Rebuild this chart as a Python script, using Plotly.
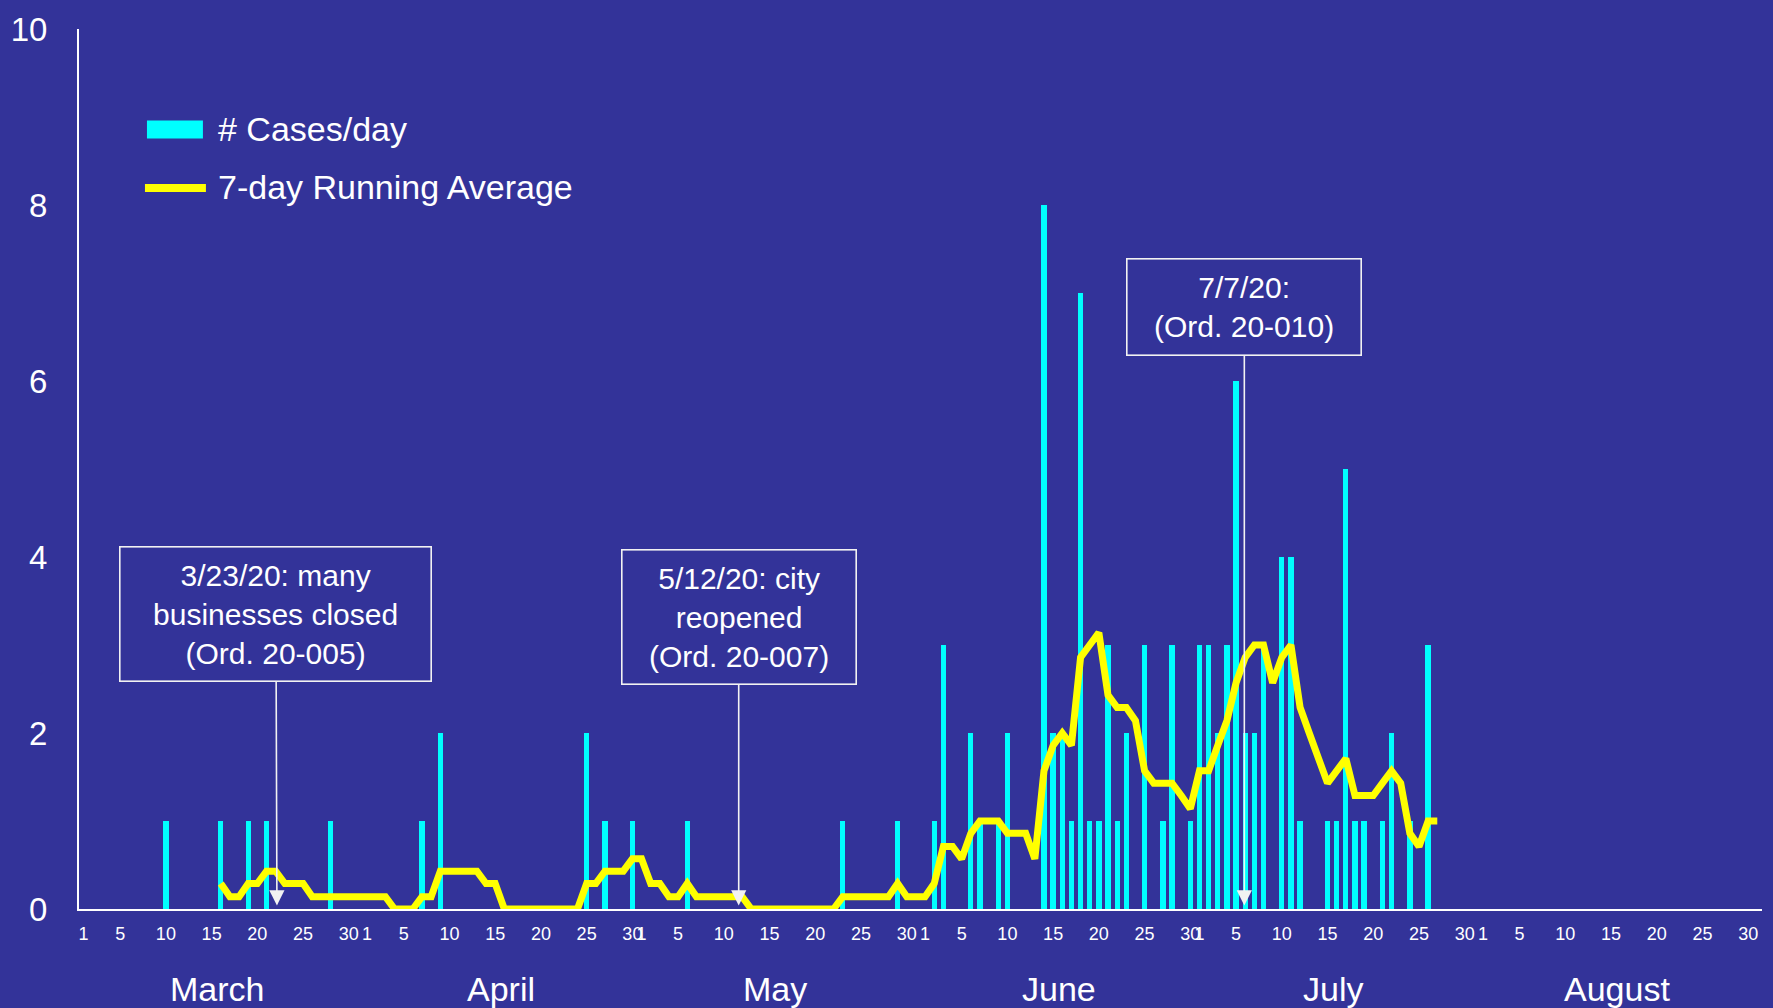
import pandas as pd
import plotly.graph_objects as go

# ---------------- data ----------------
case_dates = [
    "2020-03-10", "2020-03-16", "2020-03-19", "2020-03-21", "2020-03-28",
    "2020-04-07", "2020-04-09", "2020-04-25", "2020-04-27", "2020-04-30",
    "2020-05-06", "2020-05-23", "2020-05-29",
    "2020-06-02", "2020-06-03", "2020-06-06", "2020-06-07", "2020-06-09",
    "2020-06-10", "2020-06-14", "2020-06-15", "2020-06-16", "2020-06-17",
    "2020-06-18", "2020-06-19", "2020-06-20", "2020-06-21", "2020-06-22",
    "2020-06-23", "2020-06-25", "2020-06-27", "2020-06-28", "2020-06-30",
    "2020-07-01", "2020-07-02", "2020-07-03", "2020-07-04", "2020-07-05",
    "2020-07-06", "2020-07-07", "2020-07-08", "2020-07-10", "2020-07-11",
    "2020-07-12", "2020-07-15", "2020-07-16", "2020-07-17", "2020-07-18",
    "2020-07-19", "2020-07-21", "2020-07-22", "2020-07-24", "2020-07-26",
]
case_counts = [
    1, 1, 1, 1, 1,
    1, 2, 2, 1, 1,
    1, 1, 1,
    1, 3, 2, 1, 1,
    2, 8, 2, 2, 1,
    7, 1, 1, 3, 1,
    2, 3, 1, 3, 1,
    3, 3, 2, 3, 6,
    2, 2, 3, 4, 4,
    1, 1, 1, 5, 1,
    1, 1, 2, 1, 3,
]

avg_start = "2020-03-16"
avg_end = "2020-07-27"
avg_march = [0.29, 0.14, 0.14, 0.29, 0.29, 0.43, 0.43, 0.29, 0.29, 0.29,
             0.14, 0.14, 0.14, 0.14, 0.14, 0.14]
avg_april = [0.14, 0.14, 0.14, 0, 0, 0, 0.14, 0.14, 0.43, 0.43,
             0.43, 0.43, 0.43, 0.29, 0.29, 0, 0, 0, 0, 0,
             0, 0, 0, 0, 0.29, 0.29, 0.43, 0.43, 0.43, 0.57]
avg_may = [0.57, 0.29, 0.29, 0.14, 0.14, 0.29, 0.14, 0.14, 0.14, 0.14,
           0.14, 0.14, 0, 0, 0, 0, 0, 0, 0, 0,
           0, 0, 0.14, 0.14, 0.14, 0.14, 0.14, 0.14, 0.29, 0.14, 0.14]
avg_june = [0.14, 0.29, 0.71, 0.71, 0.57, 0.86, 1.0, 1.0, 1.0, 0.86,
            0.86, 0.86, 0.57, 1.57, 1.86, 2.0, 1.86, 2.86, 3.0, 3.14,
            2.43, 2.29, 2.29, 2.14, 1.57, 1.43, 1.43, 1.43, 1.29, 1.14]
avg_july = [1.57, 1.57, 1.86, 2.14, 2.57, 2.86, 3.0, 3.0, 2.57, 2.86,
            3.0, 2.29, 2.0, 1.71, 1.43, 1.57, 1.71, 1.29, 1.29, 1.29,
            1.43, 1.57, 1.43, 0.86, 0.71, 1.0, 1.0]

month_names = ["March", "April", "May", "June", "July", "August"]
month_numbers = [3, 4, 5, 6, 7, 8]
tick_days = [1, 5, 10, 15, 20, 25, 30]
y_ticks = [0, 2, 4, 6, 8, 10]

notes = [
    "3/23/20: many<br>businesses closed<br>(Ord. 20-005)",
    "5/12/20: city<br>reopened<br>(Ord. 20-007)",
    "7/7/20:<br>(Ord. 20-010)",
]
note_points = ["2020-03-22 03:20", "2020-05-11 15:00", "2020-07-05 21:40"]

legend_labels = ["# Cases/day", "7-day Running Average"]

# ---------------- styling ----------------
BG = "#333399"
CYAN = "#00FFFF"
YELLOW = "#FFFF00"
WHITE = "#FFFFFF"
FONT = "Liberation Sans, Arial, sans-serif"

W, H = 1773, 1008
ML, MR, MT, MB = 78, 11, 24, 99
PW, PH = W - ML - MR, H - MT - MB


def px_x(p):
    return (p - ML) / PW


def px_y(p):
    return (H - MB - p) / PH


DAY_MS = 86400000

avg_dates = pd.date_range(avg_start, avg_end, freq="D")
avg_values = avg_march + avg_april + avg_may + avg_june + avg_july

fig = go.Figure()
fig.add_trace(go.Bar(
    x=pd.to_datetime(case_dates), y=case_counts,
    width=0.58 * DAY_MS,
    marker=dict(color=CYAN, line=dict(width=0)),
    name=legend_labels[0], showlegend=False,
))
fig.add_trace(go.Scatter(
    x=avg_dates, y=avg_values, mode="lines",
    line=dict(color=YELLOW, width=7),
    name=legend_labels[1], showlegend=False,
))

tickvals = [pd.Timestamp(2020, m, d) for m in month_numbers for d in tick_days]
ticktext = [str(d) for m in month_numbers for d in tick_days]

annotations = []
# month labels, centred under each month
for name, m in zip(month_names, month_numbers):
    mid = pd.Timestamp(2020, m, 1) + pd.Timedelta(days=14.6)
    annotations.append(dict(
        x=mid, y=px_y(989), xref="x", yref="paper", text=name,
        showarrow=False, xanchor="center", yanchor="middle",
        font=dict(size=34, color=WHITE, family=FONT),
    ))

# callout boxes
box_specs = [
    dict(ax=-1, ay=-291, width=308, height=131),
    dict(ax=0, ay=-288, width=231, height=131),
    dict(ax=0, ay=-598, width=231, height=93),
]
for text, pt, spec in zip(notes, note_points, box_specs):
    annotations.append(dict(
        x=pd.Timestamp(pt), y=0.04, xref="x", yref="y", text=text,
        showarrow=True, axref="pixel", ayref="pixel",
        ax=spec["ax"], ay=spec["ay"],
        arrowhead=2, arrowsize=1.9, arrowwidth=1.6, arrowcolor="#F2F2F2",
        bordercolor="#F2F2F2", borderwidth=1.6, borderpad=1,
        width=spec["width"], height=spec["height"], align="center",
        font=dict(size=30, color=WHITE, family=FONT),
    ))

# legend texts
annotations.append(dict(
    x=px_x(215), y=px_y(125), xref="paper", yref="paper", text=legend_labels[0],
    showarrow=False, xanchor="left", yanchor="middle",
    font=dict(size=34, color=WHITE, family=FONT),
))
annotations.append(dict(
    x=px_x(215), y=px_y(183), xref="paper", yref="paper", text=legend_labels[1],
    showarrow=False, xanchor="left", yanchor="middle",
    font=dict(size=34, color=WHITE, family=FONT),
))

shapes = [
    dict(type="rect", xref="paper", yref="paper",
         x0=px_x(146), x1=px_x(202), y0=px_y(134), y1=px_y(116),
         fillcolor=CYAN, line=dict(width=0)),
    dict(type="line", xref="paper", yref="paper",
         x0=px_x(144), x1=px_x(205), y0=px_y(184), y1=px_y(184),
         line=dict(color=YELLOW, width=8)),
]

fig.update_layout(
    width=W, height=H,
    margin=dict(l=ML, r=MR, t=MT, b=MB, pad=0),
    paper_bgcolor=BG, plot_bgcolor=BG,
    font=dict(family=FONT, color=WHITE),
    bargap=0,
    showlegend=False,
    annotations=annotations,
    shapes=shapes,
    xaxis=dict(
        type="date",
        range=[pd.Timestamp("2020-02-29 12:00"), pd.Timestamp("2020-08-31 12:00")],
        tickmode="array", tickvals=tickvals, ticktext=ticktext,
        tickangle=0, ticks="", ticklabelstandoff=7,
        tickfont=dict(size=18, color=WHITE, family=FONT),
        showline=True, linecolor=WHITE, linewidth=2,
        showgrid=False, zeroline=False, fixedrange=True,
    ),
    yaxis=dict(
        range=[0, 10], tickmode="array", tickvals=y_ticks,
        ticks="", ticklabelstandoff=23,
        tickfont=dict(size=33, color=WHITE, family=FONT),
        showline=True, linecolor=WHITE, linewidth=2,
        showgrid=False, zeroline=False, fixedrange=True,
    ),
)

fig.write_html(
    "out.html",
    config={"displayModeBar": False},
    post_script="document.body.style.margin='0';document.body.style.overflow='hidden';"
                "document.body.style.background='" + BG + "';",
)
